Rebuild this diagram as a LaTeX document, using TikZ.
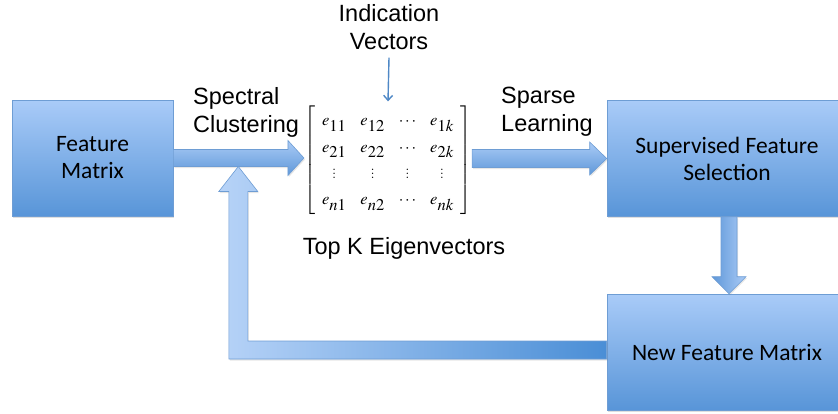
\documentclass[tikz,border=0pt]{standalone}
\usepackage{mathptmx}
\usepackage[no-math]{fontspec}
\newfontfamily\labelfont{Liberation Sans}
\newfontfamily\boxfont{Carlito}
\usetikzlibrary{positioning, calc, shadows, arrows.meta}
\definecolor{boxtop}{HTML}{A9CBF8}
\definecolor{boxbottom}{HTML}{5895D8}
\definecolor{boxedge}{HTML}{6E9DD4}
\definecolor{flowlight}{HTML}{AACBF6}
\definecolor{flowdark}{HTML}{5F98D9}
\definecolor{feeddark}{HTML}{4A8ED6}
\definecolor{pointerblue}{HTML}{4F88C6}
\newcommand{\eig}[1]{e_{\textstyle #1}}
\tikzset{
  block/.style    = {rectangle, draw=boxedge, line width=0.6pt, top color=boxtop, bottom color=boxbottom,
                     minimum height=116pt, align=center, font=\boxfont\fontsize{23.5}{27}\selectfont,
                     drop shadow={opacity=0.25, shadow xshift=1pt, shadow yshift=-1.5pt}},
  caption/.style  = {font=\labelfont\fontsize{23.5}{28}\selectfont, inner sep=0pt},
  flow/.style     = {draw=boxedge, line width=0.6pt, top color=flowlight, bottom color=flowdark,
                     drop shadow={opacity=0.2, shadow xshift=1pt, shadow yshift=-1.5pt}},
  flowdown/.style = {draw=boxedge, line width=0.6pt, left color=flowdark, right color=flowlight,
                     drop shadow={opacity=0.2, shadow xshift=1pt, shadow yshift=-1.5pt}},
  feedback/.style = {draw=boxedge, line width=0.6pt, left color=flowlight!85!white, right color=feeddark,
                     drop shadow={opacity=0.2, shadow xshift=1pt, shadow yshift=-1.5pt}},
  pointer/.style  = {draw=pointerblue, line width=1.4pt, -{Straight Barb[length=5pt, width=9pt]}},
}

\begin{document}
\begin{tikzpicture}[x=1pt, y=1pt]
    \useasboundingbox (0,0) rectangle (838,-413);

    % --- boxes ---
    \node[block, minimum width=161pt] (fm)  at (92.5,-158) {Feature\\Matrix};
    \node[block, minimum width=240pt] (sfs) at (727,-158.5) {Supervised Feature\\Selection};
    \node[block, minimum width=240pt] (nfm) at (727,-352) {New Feature Matrix};

    % --- eigenvector matrix ---
    \node[inner sep=0pt, font=\fontsize{16.5}{19.5}\selectfont] (mat) at (388,-160)
      {\renewcommand{\arraystretch}{1.35}\setlength{\arraycolsep}{7pt}%
       $\left[\begin{array}{cccc}
         \eig{11} & \eig{12} & \cdots & \eig{1k}\\
         \eig{21} & \eig{22} & \cdots & \eig{2k}\\
         \vdots   & \vdots   & \vdots & \vdots\\
         \eig{n1} & \eig{n2} & \cdots & \eig{nk}
       \end{array}\right]$};

    % --- captions ---
    \node[caption, align=left, anchor=north west] (sc) at (193,-87) {Spectral\\Clustering};
    \node[caption, align=left, anchor=north west] (sl) at (501,-87) {Sparse\\Learning};
    \node[caption, align=center, anchor=north] (iv) at (389,-4) {Indication\\Vectors};
    \node[caption, anchor=north] (topk) at (404,-237) {Top K Eigenvectors};

    \draw[pointer] ([yshift=-8pt]iv.south) -- ([yshift=4pt]mat.north);

    % --- block arrows ---
    \coordinate (h1) at (mat.west |- fm.east);
    \path[flow] ($(fm.east)+(0,8.5)$) -- ($(h1)+(-16,8.5)$) -- ($(h1)+(-16,17.5)$) -- (h1)
      -- ($(h1)+(-16,-17.5)$) -- ($(h1)+(-16,-8.5)$) -- ($(fm.east)+(0,-8.5)$) -- cycle;

    \coordinate (h2) at (sfs.west);
    \path[flow] ($(mat.east |- h2)+(0,9)$) -- ($(h2)+(-17,9)$) -- ($(h2)+(-17,16.5)$) -- (h2)
      -- ($(h2)+(-17,-16.5)$) -- ($(h2)+(-17,-9)$) -- ($(mat.east |- h2)+(0,-9)$) -- cycle;

    \coordinate (h3) at ($(sfs.south |- nfm.north)+(2,0)$);
    \path[flowdown] ($(sfs.south)+(-6,0)$) -- ($(h3)+(-8,17)$) -- ($(h3)+(-17,17)$) -- (h3)
      -- ($(h3)+(17,17)$) -- ($(h3)+(8,17)$) -- ($(sfs.south)+(10,0)$) -- cycle;

    % --- loop back into the first arrow ---
    \coordinate (join) at ($(fm.east)+(65,-8.5)$);
    \path[feedback] ($(nfm.west)+(0,11)$) -- ($(join |- nfm.west)+(9.5,11)$) -- ($(join)+(9.5,-25)$)
      -- ($(join)+(19.5,-25)$) -- (join) -- ($(join)+(-19.5,-25)$) -- ($(join)+(-9.5,-25)$)
      -- ($(join |- nfm.west)+(-9.5,-7)$) -- ($(nfm.west)+(0,-7)$) -- cycle;
\end{tikzpicture}
\end{document}
